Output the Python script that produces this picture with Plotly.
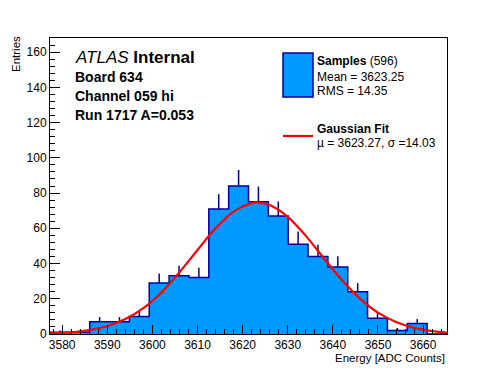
import plotly.graph_objects as go

# ---- data ----
bin_edges = [3577.3, 3581.7, 3586.1, 3590.5, 3594.9, 3599.3, 3603.7, 3608.1, 3612.5,
             3616.9, 3621.3, 3625.7, 3630.1, 3634.5, 3638.9, 3643.3, 3647.7, 3652.1,
             3656.5, 3660.9, 3665.3]
counts = [1, 1, 7, 7, 10, 29, 33, 32, 71, 84, 75, 67, 51, 44, 38, 24, 9, 2, 6, 0]

fit_x = [3577.3, 3582, 3586, 3590, 3594, 3598, 3602, 3606, 3610, 3614, 3618, 3622,
         3623.3, 3626, 3630, 3634, 3638, 3642, 3646, 3650, 3654, 3658, 3662, 3665.3]
fit_y = [0.4, 1.0, 2.2, 4.5, 8.5, 14.7, 23.6, 35.0, 47.7, 60.0, 69.5, 74.3,
         74.6, 73.2, 66.5, 55.7, 43.0, 30.6, 20.1, 12.1, 6.8, 3.5, 1.65, 0.8]

x_range = [3577.3, 3665.3]
y_range = [0, 168]

title_lines = ["<i>ATLAS</i> <b>Internal</b>", "<b>Board 634</b>", "<b>Channel 059 hi</b>",
               "<b>Run 1717 A=0.053</b>"]
legend_hist = ["<b>Samples</b> (596)", "Mean = 3623.25", "RMS = 14.35"]
legend_fit = ["<b>Gaussian Fit</b>", "\u00b5 = 3623.27, \u03c3 =14.03"]

FILL = "#0099ff"
EDGE = "#000099"
FONT = "Liberation Sans, Arial, Helvetica, sans-serif"

centers = [(a + b) / 2 for a, b in zip(bin_edges[:-1], bin_edges[1:])]
widths = [b - a for a, b in zip(bin_edges[:-1], bin_edges[1:])]
errs = [c ** 0.5 for c in counts]

fig = go.Figure()
fig.add_trace(go.Scatter(
    x=centers, y=counts, mode="markers", marker=dict(size=1, color=EDGE, opacity=0),
    error_y=dict(type="data", array=errs, arrayminus=[0] * len(errs), symmetric=False,
                 color=EDGE, thickness=1.5, width=0),
    showlegend=False, hoverinfo="skip"))
fig.add_trace(go.Bar(x=centers, y=counts, width=widths, marker=dict(color=FILL, line=dict(width=0)),
                     showlegend=False))
fig.add_trace(go.Scatter(x=bin_edges, y=counts + [counts[-1]], mode="lines",
                         line=dict(shape="hv", color=EDGE, width=1.5), showlegend=False))
fig.add_trace(go.Scatter(x=fit_x, y=fit_y, mode="lines",
                         line=dict(shape="spline", color="red", width=2.2), showlegend=False))

# page has an 8px body margin: size the figure so the plot lands where the reference has it
OFF = 8
W, H = 496 - OFF, 372 - OFF
# plot area in page pixels
L, R, T, B = 50, 447, 38, 334


def px(x):
    return (x - L) / (R - L)


def py(y):
    return (B - y) / (B - T)


ann = []
for txt, yy, sz in zip(title_lines, [58, 77, 96, 115], [17, 14, 14, 14]):
    ann.append(dict(text=txt, x=px(73), y=py(yy), xref="paper", yref="paper",
                    xanchor="left", yanchor="middle", showarrow=False,
                    font=dict(size=sz, color="black", family=FONT)))
for txt, yy in zip(legend_hist, [61, 77, 91]):
    ann.append(dict(text=txt, x=px(315), y=py(yy), xref="paper", yref="paper",
                    xanchor="left", yanchor="middle", showarrow=False,
                    font=dict(size=12, color="black", family=FONT)))
for txt, yy in zip(legend_fit, [129, 143]):
    ann.append(dict(text=txt, x=px(315), y=py(yy), xref="paper", yref="paper",
                    xanchor="left", yanchor="middle", showarrow=False,
                    font=dict(size=12, color="black", family=FONT)))
ann.append(dict(text="Entries", x=px(16), y=py(34), xref="paper", yref="paper",
                xanchor="center", yanchor="top", textangle=-90, showarrow=False,
                font=dict(size=11.5, color="black", family=FONT)))
ann.append(dict(text="Energy [ADC Counts]", x=1, y=py(358), xref="paper", yref="paper",
                xanchor="right", yanchor="middle", showarrow=False,
                font=dict(size=11.5, color="black", family=FONT)))

shapes = [
    dict(type="rect", xref="paper", yref="paper", x0=px(283), x1=px(313), y0=py(97), y1=py(53),
         fillcolor=FILL, line=dict(color=EDGE, width=1.5)),
    dict(type="line", xref="paper", yref="paper", x0=px(283), x1=px(313), y0=py(136), y1=py(136),
         line=dict(color="red", width=2.2)),
]

fig.update_layout(
    width=W, height=H,
    margin=dict(l=L - OFF, r=W - (R - OFF), t=T - OFF, b=H - (B - OFF), autoexpand=False),
    paper_bgcolor="white", plot_bgcolor="white",
    font=dict(family=FONT, size=12, color="black"),
    bargap=0, showlegend=False,
    annotations=ann, shapes=shapes,
    xaxis=dict(range=x_range, dtick=10, tick0=3580, ticks="inside", ticklen=9, tickwidth=1,
               tickcolor="black", showline=True, linecolor="black", linewidth=1, mirror=True,
               showgrid=False, zeroline=False, tickfont=dict(size=12), automargin=False,
               minor=dict(ticks="inside", ticklen=5, dtick=2, tick0=3580, tickcolor="black", showgrid=False)),
    yaxis=dict(range=y_range, dtick=20, ticks="inside", ticklen=10, tickwidth=1,
               tickcolor="black", showline=True, linecolor="black", linewidth=1, mirror=True,
               showgrid=False, zeroline=False, tickfont=dict(size=12), automargin=False,
               minor=dict(ticks="inside", ticklen=5, dtick=4, tickcolor="black", showgrid=False)),
)

fig.write_html("out.html")
